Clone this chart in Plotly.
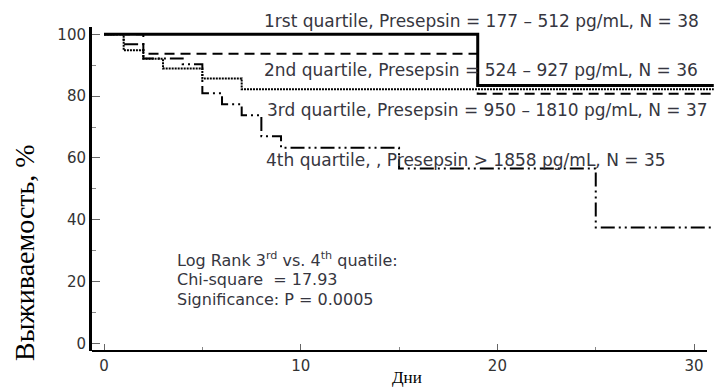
import plotly.graph_objects as go

# ---- data ----
q1_days = [0, 19, 31]
q1_surv = [100, 83.4, 83.4]

q2_days = [0, 2, 19, 31]
q2_surv = [100, 93.7, 80.8, 80.8]

q3_days = [0, 1, 2, 3, 5, 7, 31]
q3_surv = [100, 94.8, 92.1, 88.9, 85.7, 82.2, 82.2]

q4_days = [0, 1, 2, 4, 5, 6, 7, 8, 9, 15, 25, 31]
q4_surv = [100, 96.8, 92.2, 90.3, 80.9, 77.4, 73.8, 67.0, 63.3, 56.6, 37.5, 37.5]

x_ticks = [0, 10, 20, 30]
y_ticks = [0, 20, 40, 60, 80, 100]

labels = [
    "1rst quartile, Presepsin = 177 \u2013 512 pg/mL, N = 38",
    "2nd quartile, Presepsin = 524 \u2013 927 pg/mL, N = 36",
    "3rd quartile, Presepsin = 950 \u2013 1810 pg/mL, N = 37",
    "4th quartile, , Presepsin > 1858 pg/mL, N = 35",
]
stats_lines = [
    "Log Rank 3<sup>rd</sup> vs. 4<sup>th</sup> quatile:",
    "Chi-square  = 17.93",
    "Significance: P = 0.0005",
]
y_title = "Выживаемость, %"
x_title = "Дни"

# ---- layout geometry (pixels) ----
W, H = 719, 387
L, R, T, B = 92, 0, 27, 36
PW, PH = W - L - R, H - T - B


def px(x):
    return (x - L) / PW


def py(y):
    return (H - B - y) / PH


fig = go.Figure()
styles = [
    (q1_days, q1_surv, "solid", 3),
    (q2_days, q2_surv, "10px,6px", 2),
    (q3_days, q3_surv, "2px,1px", 2),
    (q4_days, q4_surv, "14px,4px,2px,4px,2px,4px", 2),
]
for xs, ys, dash, w in styles:
    fig.add_trace(go.Scatter(x=xs, y=ys, mode="lines", line_shape="hv",
                             line=dict(color="black", width=w, dash=dash),
                             showlegend=False, hoverinfo="skip"))

txt_font = dict(family="DejaVu Sans", size=17, color="#363640")
label_pos = [(262, 21), (262, 70), (265, 110), (264, 160)]
for t, (lx, ly) in zip(labels, label_pos):
    fig.add_annotation(text=t, xref="paper", yref="paper", x=px(lx), y=py(ly),
                       xanchor="left", yanchor="middle", showarrow=False, font=txt_font)
for t, ly in zip(stats_lines, [259, 279, 299]):
    fig.add_annotation(text=t, xref="paper", yref="paper", x=px(175), y=py(ly),
                       xanchor="left", yanchor="middle", showarrow=False,
                       font=dict(family="DejaVu Sans", size=16, color="#363640"))

fig.add_annotation(text=y_title, xref="paper", yref="paper", x=px(24), y=py(253),
                   xanchor="center", yanchor="middle", textangle=-90, showarrow=False,
                   font=dict(family="Liberation Serif", size=28, color="black"))
fig.add_annotation(text=x_title, xref="paper", yref="paper", x=px(407), y=py(377),
                   xanchor="center", yanchor="middle", showarrow=False,
                   font=dict(family="Liberation Serif", size=17, color="black"))

# x axis line (ends before the right edge, like the original)
fig.add_shape(type="line", xref="paper", yref="paper", x0=0, x1=px(707), y0=0, y1=0,
              line=dict(color="black", width=2))

fig.update_xaxes(range=[-0.61, -0.61 + PW / 19.67], showline=False, showgrid=False,
                 zeroline=False, tickvals=x_ticks, ticks="inside", ticklen=7,
                 tickwidth=1, tickcolor="#666", ticklabelstandoff=4,
                 minor=dict(ticks="inside", ticklen=4, dtick=5, tickcolor="#888", tick0=0),
                 tickfont=dict(family="DejaVu Sans", size=15, color="#333"))
fig.update_yaxes(range=[-2.43, 102.36], showline=True, linewidth=3, linecolor="black",
                 showgrid=False, zeroline=False, tickvals=y_ticks, ticks="inside",
                 ticklen=8, tickwidth=1, tickcolor="#666",
                 minor=dict(ticks="inside", ticklen=4, dtick=10, tickcolor="#888", tick0=0),
                 tickfont=dict(family="DejaVu Sans", size=15, color="#333"))

fig.update_layout(width=W, height=H, margin=dict(l=L, r=R, t=T, b=B),
                  plot_bgcolor="white", paper_bgcolor="white")
fig.write_html("out.html")
